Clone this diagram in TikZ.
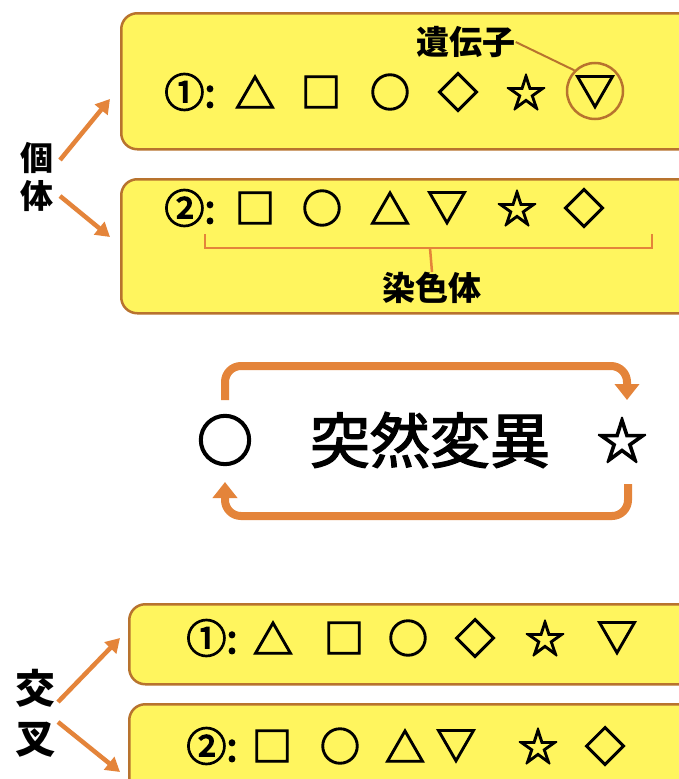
\documentclass[tikz,border=0pt]{standalone}
\usepackage{fontspec}
\newfontfamily\cjk{Noto Sans CJK JP}
\newfontfamily\cjkfb{Noto Sans CJK JP}[FakeBold=2.2]
\newfontfamily\cjksym{Noto Sans CJK JP}[FakeBold=3.5]
\usetikzlibrary{arrows.meta}
\definecolor{boxfill}{HTML}{FFF55E}
\definecolor{boxline}{HTML}{B8732E}
\definecolor{arr}{HTML}{E4843A}
\tikzset{
  box/.style={draw=boxline, line width=2.5pt, fill=boxfill, rounded corners=16pt, minimum width=600pt, anchor=north west, inner sep=0pt},
  sym/.style={font=\cjksym\fontsize{40}{40}\selectfont, inner sep=0pt},
  lab/.style={font=\cjk\bfseries\fontsize{33}{33}\selectfont, inner sep=0pt},
  big/.style={font=\cjkfb\fontsize{60}{60}\selectfont, inner sep=0pt},
  oarrow/.style={draw=arr, line width=4.5pt, -{Triangle[width=16pt,length=14pt]}},
  loop/.style={draw=arr, line width=8pt, rounded corners=16pt, -{Triangle[width=24pt,length=16pt]}},
}
\begin{document}
\begin{tikzpicture}[x=1pt,y=-1pt]
\clip (0,0) rectangle (679,779);
\useasboundingbox (0,0) rectangle (679,779);
\fill[white] (0,0) rectangle (679,779);
% boxes
\node[box, minimum height=136pt] (b1) at (120,12) {};
\node[box, minimum height=134pt] (b2) at (120,178) {};
\node[box, minimum height=80pt] (b3) at (128,603) {};
\node[box, minimum height=90pt] (b4) at (128,703) {};
% row 1
\node[sym] (r1n) at (190,92) {①:};
\node[sym] (r1a) at (255,92) {△};
\node[sym] (r1b) at (321,92) {□};
\node[sym] (r1c) at (390,92) {○};
\node[sym] (r1d) at (458,92) {◇};
\node[sym] (r1e) at (526,92) {☆};
\node[sym] (r1f) at (595,92) {▽};
\node[draw=boxline, line width=2.5pt, circle, minimum size=56pt] (gc) at (595,91) {};
\node[lab] (gene) at (466,42) {遺伝子};
\draw[boxline, line width=2pt] (gene.east) -- (gc.north west);
% row 2
\node[sym] (r2n) at (190,208) {②:};
\node[sym] (r2a) at (255,208) {□};
\node[sym] (r2b) at (322,208) {○};
\node[sym] (r2c) at (390,208) {△};
\node[sym] (r2d) at (447,208) {▽};
\node[sym] (r2e) at (517,208) {☆};
\node[sym] (r2f) at (584,208) {◇};
\coordinate (brL) at (205,234);
\coordinate (brR) at (652,234);
\coordinate (brM) at (430,248);
\node[lab] (chrom) at (432,288) {染色体};
\draw[arr, line width=2.5pt] (brL) -- (205,248) -- (652,248) -- (brR);
\draw[arr, line width=2.5pt] (brM) -- (chrom.north);
% 個体
\node[lab] (ind1) at (37,158) {個};
\node[lab] (ind2) at (37,196) {体};
\draw[oarrow] (60,160) -- (110,99);
\draw[oarrow] (60,196) -- (110,237);
% mutation
\node[sym, font=\cjksym\fontsize{56}{56}\selectfont] (mc) at (225,440) {○};
\node[big] (mut) at (430,440) {突然変異};
\node[sym, font=\cjksym\fontsize{50}{50}\selectfont] (ms) at (622,440) {☆};
\draw[loop] (225,400) -- (225,366) -- (627,366) -- (627,400);
\draw[loop] (628,484) -- (628,516) -- (225,516) -- (225,482);
% row 3
\node[sym] (r3n) at (212,638) {①:};
\node[sym] (r3a) at (273,638) {△};
\node[sym] (r3b) at (344,638) {□};
\node[sym] (r3c) at (408,638) {○};
\node[sym] (r3d) at (475,638) {◇};
\node[sym] (r3e) at (545,638) {☆};
\node[sym] (r3f) at (617,638) {▽};
% row 4
\node[sym] (r4n) at (212,746) {②:};
\node[sym] (r4a) at (272,746) {□};
\node[sym] (r4b) at (340,746) {○};
\node[sym] (r4c) at (405,746) {△};
\node[sym] (r4d) at (456,746) {▽};
\node[sym] (r4e) at (538,746) {☆};
\node[sym] (r4f) at (605,746) {◇};
% 交叉
\node[lab, font=\cjk\bfseries\fontsize{40}{40}\selectfont] (cr1) at (36,688) {交};
\node[lab, font=\cjk\bfseries\fontsize{40}{40}\selectfont] (cr2) at (36,740) {叉};
\draw[oarrow] (58,702) -- (120,638);
\draw[oarrow] (58,722) -- (120,772);
\end{tikzpicture}
\end{document}
